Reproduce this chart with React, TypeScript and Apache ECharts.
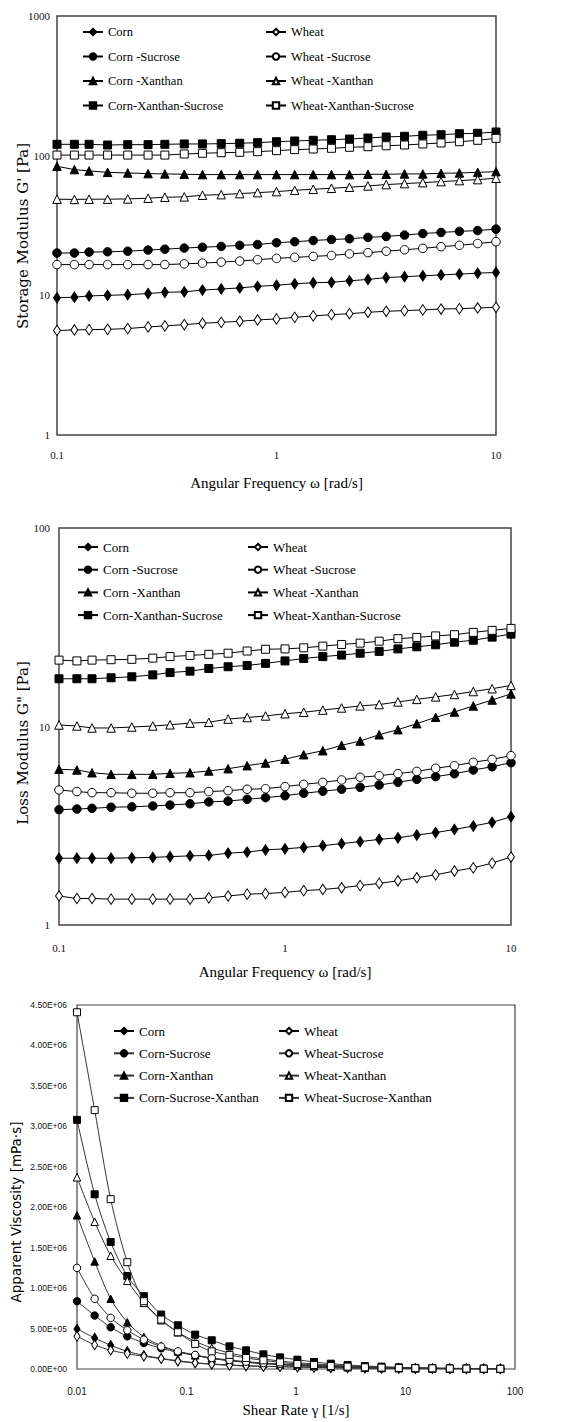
import React, { useEffect, useRef } from "react";
import * as echarts from "echarts";

// ---------- Data ----------
const freq = [0.1, 0.12, 0.14, 0.17, 0.21, 0.26, 0.31, 0.38, 0.46, 0.56, 0.68, 0.82, 1, 1.21, 1.47, 1.78, 2.15, 2.61, 3.16, 3.83, 4.64, 5.62, 6.81, 8.25, 10];

// Storage modulus G' [Pa]
const gpCorn = [9.6, 9.7, 9.9, 10.0, 10.1, 10.3, 10.5, 10.6, 10.9, 11.1, 11.3, 11.6, 11.8, 12.1, 12.3, 12.4, 12.7, 13.0, 13.4, 13.6, 13.8, 14.0, 14.2, 14.4, 14.6];
const gpWheat = [5.6, 5.65, 5.68, 5.71, 5.78, 5.94, 6.04, 6.17, 6.31, 6.41, 6.52, 6.66, 6.78, 6.96, 7.12, 7.27, 7.39, 7.56, 7.69, 7.77, 7.86, 7.98, 8.03, 8.12, 8.21];
const gpCornSuc = [20.1, 20.1, 20.4, 20.5, 20.7, 21.1, 21.4, 21.8, 22.1, 22.4, 22.8, 23.1, 23.8, 24.2, 24.7, 25.1, 25.4, 26.0, 26.4, 27.0, 27.7, 28.2, 28.7, 29.1, 29.8];
const gpWheatSuc = [16.6, 16.6, 16.6, 16.6, 16.6, 16.6, 16.6, 16.8, 17.0, 17.3, 17.6, 18.0, 18.4, 18.7, 19.0, 19.3, 19.8, 20.2, 20.7, 21.2, 21.7, 22.3, 22.8, 23.5, 24.2];
const gpCornXan = [83.9, 79.5, 77.7, 76.0, 75.2, 74.4, 74.0, 73.6, 73.2, 73.2, 73.2, 73.2, 73.2, 73.2, 73.2, 73.2, 73.2, 73.6, 73.6, 74.0, 74.0, 74.8, 75.2, 76.0, 76.8];
const gpWheatXan = [48.8, 48.6, 48.8, 48.8, 49.0, 49.6, 50.4, 50.7, 52.1, 52.6, 53.5, 54.4, 55.3, 56.5, 57.5, 58.4, 59.4, 60.7, 62.1, 63.1, 64.1, 65.2, 66.3, 67.4, 68.9];
const gpCornXanSuc = [120.6, 120.6, 120.6, 119.2, 119.9, 119.9, 120.6, 121.3, 121.3, 121.9, 122.7, 123.9, 125.9, 127.4, 128.8, 130.1, 131.6, 133.8, 136.1, 137.6, 140.0, 141.3, 143.6, 144.6, 147.7];
const gpWheatXanSuc = [101, 101, 101, 101, 101, 101, 101, 102.8, 104, 105, 105.7, 106.8, 108.6, 110.4, 111.6, 112.9, 114.8, 115.9, 117.8, 119.2, 121.3, 123.3, 125.9, 128.8, 133.1];

// Loss modulus G'' [Pa]
const lmCorn = [2.17, 2.17, 2.17, 2.17, 2.18, 2.19, 2.21, 2.23, 2.24, 2.30, 2.33, 2.39, 2.42, 2.46, 2.51, 2.57, 2.63, 2.70, 2.75, 2.84, 2.92, 3.03, 3.15, 3.29, 3.51];
const lmWheat = [1.40, 1.36, 1.36, 1.35, 1.35, 1.35, 1.35, 1.35, 1.37, 1.40, 1.43, 1.44, 1.46, 1.49, 1.51, 1.54, 1.58, 1.62, 1.67, 1.73, 1.79, 1.87, 1.94, 2.05, 2.20];
const lmCornSuc = [3.81, 3.84, 3.87, 3.92, 3.94, 3.98, 4.02, 4.08, 4.17, 4.21, 4.30, 4.38, 4.48, 4.61, 4.72, 4.83, 4.94, 5.07, 5.24, 5.42, 5.59, 5.78, 6.04, 6.27, 6.57];
const lmWheatSuc = [4.79, 4.70, 4.64, 4.64, 4.61, 4.61, 4.64, 4.64, 4.70, 4.75, 4.83, 4.86, 4.98, 5.11, 5.23, 5.38, 5.55, 5.65, 5.79, 5.94, 6.16, 6.35, 6.60, 6.83, 7.13];
const lmCornXan = [6.09, 6.04, 5.85, 5.74, 5.74, 5.74, 5.81, 5.85, 5.97, 6.13, 6.35, 6.55, 6.84, 7.21, 7.55, 8.04, 8.45, 9.09, 9.64, 10.33, 11.13, 11.83, 12.69, 13.6, 14.6];
const lmWheatXan = [10.18, 10.06, 9.83, 9.83, 9.94, 10.06, 10.2, 10.4, 10.5, 10.9, 11.1, 11.3, 11.6, 11.8, 12.1, 12.4, 12.7, 12.9, 13.3, 13.7, 14.1, 14.5, 15.0, 15.5, 16.1];
const lmCornXanSuc = [17.4, 17.4, 17.4, 17.6, 17.8, 18.2, 18.7, 19.0, 19.6, 20.0, 20.3, 20.8, 21.4, 22.0, 22.5, 22.9, 23.4, 23.9, 24.6, 25.2, 25.8, 26.6, 27.2, 28.2, 29.2];
const lmWheatXanSuc = [21.6, 21.4, 21.6, 21.7, 21.8, 22.1, 22.5, 22.8, 23.1, 23.4, 24.0, 24.5, 24.6, 24.9, 25.4, 25.9, 26.3, 26.9, 27.7, 28.1, 28.6, 29.0, 29.8, 30.5, 31.2];

// Apparent viscosity [mPa·s]
const shear = [0.01, 0.0145, 0.0203, 0.0288, 0.0408, 0.0587, 0.0834, 0.12, 0.17, 0.247, 0.35, 0.504, 0.715, 1.03, 1.46, 2.08, 2.96, 4.26, 6.04, 8.69, 12.3, 17.6, 25.4, 36, 51.8, 73.5];
const visCorn = [496000, 384000, 293000, 218000, 169000, 131000, 103000, 78000, 62000, 50000, 41000, 33000, 29000, 25000, 21000, 17000, 13000, 11000, 9000, 7000, 6000, 5000, 4000, 3000, 2000, 2000];
const visWheat = [404000, 298000, 231000, 190000, 157000, 128000, 95000, 74000, 58000, 45000, 37000, 33000, 29000, 24000, 20000, 16000, 13000, 10000, 8000, 7000, 5000, 4000, 3000, 3000, 2000, 2000];
const visCornSuc = [838000, 661000, 516000, 404000, 322000, 256000, 206000, 169000, 130000, 105000, 85000, 68000, 55000, 44000, 36000, 29000, 23000, 18000, 14000, 11000, 9000, 7000, 5000, 4000, 3000, 2000];
const visWheatSuc = [1250000, 868000, 632000, 479000, 363000, 277000, 218000, 174000, 136000, 112000, 91000, 74000, 62000, 50000, 41000, 33000, 25000, 21000, 17000, 12000, 10000, 8000, 6000, 5000, 4000, 3000];
const visCornXan = [1900000, 1330000, 868000, 578000, 397000, 289000, 218000, 169000, 131000, 103000, 82000, 66000, 54000, 41000, 33000, 25000, 21000, 17000, 12000, 10000, 8000, 6000, 5000, 4000, 3000, 2000];
const visWheatXan = [2370000, 1820000, 1400000, 1090000, 818000, 603000, 454000, 342000, 260000, 198000, 156000, 124000, 99000, 78000, 62000, 50000, 37000, 29000, 21000, 17000, 12000, 10000, 8000, 6000, 5000, 4000];
const visCornSucXan = [3080000, 2160000, 1570000, 1150000, 900000, 673000, 541000, 425000, 355000, 280000, 231000, 181000, 144000, 115000, 87000, 66000, 50000, 37000, 29000, 21000, 14000, 12000, 8000, 7000, 5000, 3000];
const visWheatSucXan = [4410000, 3200000, 2100000, 1320000, 838000, 611000, 454000, 310000, 218000, 174000, 136000, 107000, 82000, 62000, 50000, 37000, 29000, 21000, 17000, 12000, 10000, 8000, 6000, 5000, 4000, 3000];

// Names
const namesTop = ["Corn", "Wheat", "Corn -Sucrose", "Wheat -Sucrose", "Corn -Xanthan", "Wheat -Xanthan", "Corn-Xanthan-Sucrose", "Wheat-Xanthan-Sucrose"];
const namesVis = ["Corn", "Wheat", "Corn-Sucrose", "Wheat-Sucrose", "Corn-Xanthan", "Wheat-Xanthan", "Corn-Sucrose-Xanthan", "Wheat-Sucrose-Xanthan"];
const symbols = ["diamond", "diamond", "circle", "circle", "triangle", "triangle", "rect", "rect"];
const filled = [true, false, true, false, true, false, true, false];

const SERIF = "Liberation Serif";
const NARROW = "Liberation Sans Narrow, Arial Narrow, Liberation Sans, sans-serif";

function sci(v: number): string {
  if (v === 0) return "0.00E+00";
  const e = Math.floor(Math.log10(v) + 1e-9);
  const m = v / Math.pow(10, e);
  return m.toFixed(2) + "E+" + String(e).padStart(2, "0");
}
const plain = (v: number) => String(+Number(v).toPrecision(6));

function symSize(sym: string, big: boolean): any {
  const s = big ? 8.5 : 7.5;
  if (sym === "diamond") return [s - 1.5, s + 2];
  if (sym === "rect") return s - 0.5;
  return s;
}

function mkSeries(name: string, xs: number[], ys: number[], idx: number, k: number, smooth: number | boolean, lineColor: string) {
  return {
    type: "line",
    name,
    xAxisIndex: idx,
    yAxisIndex: idx,
    data: xs.map((x, i) => [x, ys[i]]),
    symbol: symbols[k],
    symbolSize: symSize(symbols[k], idx < 2),
    showSymbol: true,
    smooth,
    lineStyle: { color: lineColor, width: 1 },
    itemStyle: { color: filled[k] ? "#000" : "#fff", borderColor: "#000", borderWidth: 1 },
    emphasis: { disabled: true },
    z: filled[k] ? 3 : 4,
  };
}

function legendCol(data: string[], left: number, top: number, gap: number, size: number) {
  return {
    orient: "vertical",
    left,
    top,
    padding: 0,
    itemWidth: 20,
    itemHeight: 8,
    itemGap: gap,
    data,
    selectedMode: false,
    textStyle: { fontFamily: SERIF, fontSize: size, color: "#000", lineHeight: 13 },
  };
}

const App: React.FC = () => {
  const ref = useRef<HTMLDivElement>(null);
  useEffect(() => {
    if (!ref.current) return;
    const chart = echarts.init(ref.current, undefined, { renderer: "svg" });

    const topSets = [gpCorn, gpWheat, gpCornSuc, gpWheatSuc, gpCornXan, gpWheatXan, gpCornXanSuc, gpWheatXanSuc];
    const midSets = [lmCorn, lmWheat, lmCornSuc, lmWheatSuc, lmCornXan, lmWheatXan, lmCornXanSuc, lmWheatXanSuc];
    const visSets = [visCorn, visWheat, visCornSuc, visWheatSuc, visCornXan, visWheatXan, visCornSucXan, visWheatSucXan];

    const series: any[] = [];
    topSets.forEach((d, k) => series.push(mkSeries(namesTop[k], freq, d, 0, k, false, "#000")));
    midSets.forEach((d, k) => series.push(mkSeries(namesTop[k], freq, d, 1, k, false, "#000")));
    visSets.forEach((d, k) => series.push(mkSeries(namesVis[k], shear, d, 2, k, 0.3, "#333")));

    const border = { show: true, borderColor: "#444", borderWidth: 1.5, backgroundColor: "transparent" };

    const logX = (gi: number, min: number, max: number, margin: number, name: string, gap: number) => ({
      type: "log",
      logBase: 10,
      gridIndex: gi,
      min,
      max,
      axisLine: { show: false },
      axisTick: { show: false },
      splitLine: { show: false },
      axisLabel: { fontFamily: SERIF, fontSize: 11, color: "#111", margin, formatter: plain },
      name,
      nameLocation: "middle",
      nameGap: gap,
      nameTextStyle: { fontFamily: SERIF, fontSize: 15, color: "#000" },
    });
    const logY = (gi: number, min: number, max: number, margin: number) => ({
      type: "log",
      logBase: 10,
      gridIndex: gi,
      min,
      max,
      axisLine: { show: false },
      axisTick: { show: false },
      splitLine: { show: false },
      axisLabel: { fontFamily: SERIF, fontSize: 11, color: "#111", margin, formatter: plain },
    });

    const option: any = {
      animation: false,
      backgroundColor: "#fff",
      grid: [
        { left: 57, top: 16, width: 439, height: 419, ...border },
        { left: 59, top: 528, width: 452, height: 397, ...border },
        { left: 77, top: 1005, width: 438, height: 364, ...border, borderWidth: 1.2 },
      ],
      xAxis: [
        logX(0, 0.1, 10, 14, "Angular Frequency ω [rad/s]", 40),
        logX(1, 0.1, 10, 17, "Angular Frequency ω [rad/s]", 39),
        { ...logX(2, 0.01, 100, 17, "Shear Rate γ [1/s]", 33), axisLabel: { fontFamily: NARROW, fontSize: 10, color: "#111", margin: 17, formatter: plain } },
      ],
      yAxis: [
        logY(0, 1, 1000, 7),
        logY(1, 1, 100, 9),
        {
          type: "value",
          gridIndex: 2,
          min: 0,
          max: 4500000,
          interval: 500000,
          axisLine: { show: false },
          axisTick: { show: false },
          splitLine: { show: false },
          axisLabel: { fontFamily: NARROW, fontSize: 8.5, color: "#111", margin: 10, formatter: sci },
        },
      ],
      legend: [
        legendCol([namesTop[0], namesTop[2], namesTop[4], namesTop[6]], 82, 25.5, 11.5, 12.5),
        legendCol([namesTop[1], namesTop[3], namesTop[5], namesTop[7]], 265, 25.5, 11.5, 12.5),
        legendCol([namesTop[0], namesTop[2], namesTop[4], namesTop[6]], 77, 540.5, 9.7, 13),
        legendCol([namesTop[1], namesTop[3], namesTop[5], namesTop[7]], 247, 540.5, 9.7, 13),
        legendCol([namesVis[0], namesVis[2], namesVis[4], namesVis[6]], 113, 1024.5, 9.3, 13),
        legendCol([namesVis[1], namesVis[3], namesVis[5], namesVis[7]], 278, 1024.5, 9.3, 13),
      ],
      graphic: [
        {
          type: "text",
          x: 23,
          y: 236,
          rotation: Math.PI / 2,
          style: { text: "Storage Modulus G' [Pa]", font: '15px "DejaVu Serif", serif', fill: "#000", align: "center", verticalAlign: "middle" },
        },
        {
          type: "text",
          x: 23,
          y: 743,
          rotation: Math.PI / 2,
          style: { text: 'Loss Modulus G" [Pa]', font: '15px "DejaVu Serif", serif', fill: "#000", align: "center", verticalAlign: "middle" },
        },
        {
          type: "text",
          x: 16,
          y: 1212,
          rotation: Math.PI / 2,
          style: { text: "Apparent Viscosity [mPa·s]", font: '13.5px "DejaVu Sans", sans-serif', fill: "#000", align: "center", verticalAlign: "middle" },
        },
      ],
      series,
    };
    chart.setOption(option);
    return () => chart.dispose();
  }, []);
  return <div ref={ref} style={{ position: "absolute", left: 0, top: 0, width: 567, height: 1422, background: "#fff" }} />;
};

export default App;
